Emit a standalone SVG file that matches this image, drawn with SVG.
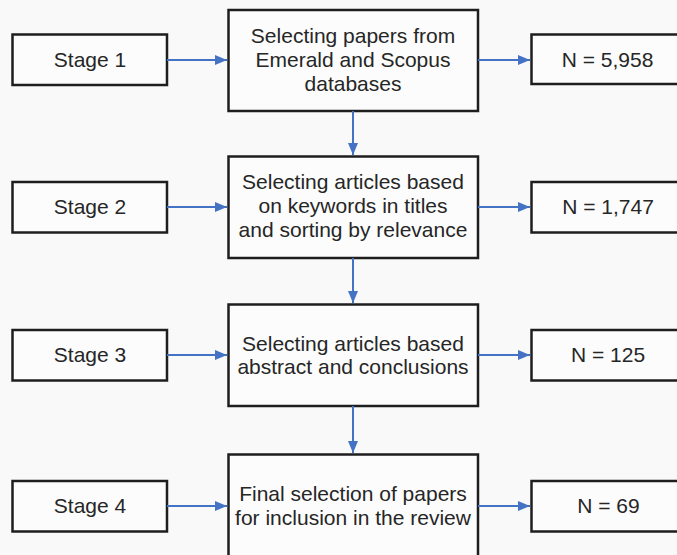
<svg xmlns="http://www.w3.org/2000/svg" width="677" height="555" viewBox="0 0 677 555">
  <defs>
    <marker id="arrow" viewBox="0 0 12 10" refX="12" refY="5" markerWidth="12" markerHeight="10" markerUnits="userSpaceOnUse" orient="auto">
      <path d="M0,0 L12,5 L0,10 Z" fill="#4472c4"/>
    </marker>
    <style>
      .box { fill: #fcfcfc; stroke: #1e1e1e; stroke-width: 2.5; }
      .label { font-family: "Liberation Sans", Arial, sans-serif; font-size: 21px; fill: #262626; text-anchor: middle; }
      .conn { stroke: #4472c4; stroke-width: 2; fill: none; marker-end: url(#arrow); }
    </style>
  </defs>

  <rect x="0" y="0" width="677" height="555" fill="#f9f9f9"/>

  <!-- Row 1 -->
  <g id="stage1">
    <rect class="box" x="12.5" y="34.5" width="154.5" height="50.5"/>
    <text class="label" x="90" y="66.5">Stage 1</text>
  </g>
  <g id="step1">
    <rect class="box" x="228.5" y="10" width="249.5" height="101"/>
    <text class="label" x="353" y="43">Selecting papers from</text>
    <text class="label" x="353" y="67">Emerald and Scopus</text>
    <text class="label" x="353" y="91">databases</text>
  </g>
  <g id="count1">
    <rect class="box" x="531.5" y="34.5" width="160" height="49.5"/>
    <text class="label" x="607.5" y="66.5">N = 5,958</text>
  </g>

  <!-- Row 2 -->
  <g id="stage2">
    <rect class="box" x="12.5" y="182" width="154.5" height="50.5"/>
    <text class="label" x="90" y="214">Stage 2</text>
  </g>
  <g id="step2">
    <rect class="box" x="228.5" y="156.5" width="249.5" height="101.5"/>
    <text class="label" x="353" y="189">Selecting articles based</text>
    <text class="label" x="353" y="213">on keywords in titles</text>
    <text class="label" x="353" y="237">and sorting by relevance</text>
  </g>
  <g id="count2">
    <rect class="box" x="531.5" y="182" width="160" height="50.5"/>
    <text class="label" x="608" y="214">N = 1,747</text>
  </g>

  <!-- Row 3 -->
  <g id="stage3">
    <rect class="box" x="12.5" y="330" width="154.5" height="50.5"/>
    <text class="label" x="90" y="362">Stage 3</text>
  </g>
  <g id="step3">
    <rect class="box" x="228.5" y="304.5" width="249.5" height="101.5"/>
    <text class="label" x="353" y="351">Selecting articles based</text>
    <text class="label" x="353" y="374">abstract and conclusions</text>
  </g>
  <g id="count3">
    <rect class="box" x="531.5" y="330" width="160" height="50.5"/>
    <text class="label" x="608" y="362">N = 125</text>
  </g>

  <!-- Row 4 -->
  <g id="stage4">
    <rect class="box" x="12.5" y="481" width="154.5" height="50.5"/>
    <text class="label" x="90" y="513">Stage 4</text>
  </g>
  <g id="step4">
    <rect class="box" x="228.5" y="454.5" width="249.5" height="110"/>
    <text class="label" x="353" y="501">Final selection of papers</text>
    <text class="label" x="353" y="525">for inclusion in the review</text>
  </g>
  <g id="count4">
    <rect class="box" x="531.5" y="481" width="160" height="50.5"/>
    <text class="label" x="608.5" y="513">N = 69</text>
  </g>

  <!-- Connectors -->
  <g id="connectors">
    <line class="conn" x1="167" y1="60" x2="227" y2="60"/>
    <line class="conn" x1="478" y1="60" x2="530" y2="60"/>
    <line class="conn" x1="353" y1="111" x2="353" y2="155"/>

    <line class="conn" x1="167" y1="207" x2="227" y2="207"/>
    <line class="conn" x1="478" y1="207" x2="530" y2="207"/>
    <line class="conn" x1="353" y1="258" x2="353" y2="303"/>

    <line class="conn" x1="167" y1="355" x2="227" y2="355"/>
    <line class="conn" x1="478" y1="355" x2="530" y2="355"/>
    <line class="conn" x1="353" y1="406" x2="353" y2="453"/>

    <line class="conn" x1="167" y1="506" x2="227" y2="506"/>
    <line class="conn" x1="478" y1="506" x2="530" y2="506"/>
  </g>
</svg>
